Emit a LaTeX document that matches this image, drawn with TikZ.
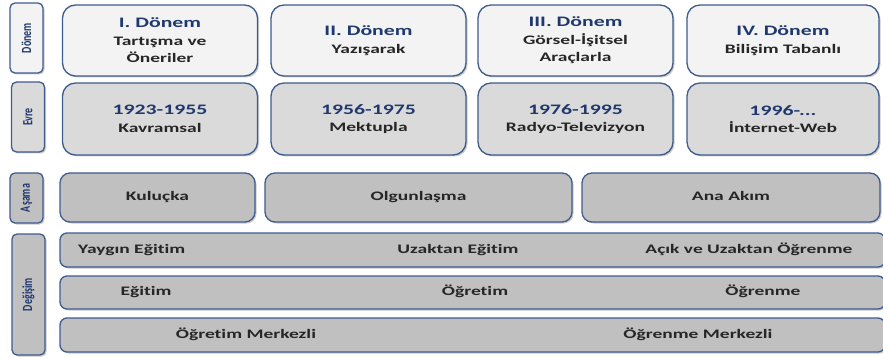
\documentclass[tikz,border=0pt]{standalone}
\usepackage{fontspec}
\setmainfont{Carlito}[FakeStretch=1.5, Ligatures=NoCommon]
\newfontfamily\labelfont{Carlito}
\usetikzlibrary{shadows}

\definecolor{edgeblue}{RGB}{62,92,142}
\definecolor{headblue}{RGB}{31,56,110}
\definecolor{inkgray}{RGB}{38,38,38}
\definecolor{paleface}{RGB}{243,243,243}
\definecolor{midface}{RGB}{218,218,218}
\definecolor{darkface}{RGB}{192,192,192}

\newcommand{\hd}[1]{{\color{headblue}\fontsize{14.5}{17.5}\selectfont #1}}
\newcommand{\sidetxt}[1]{\scalebox{1}[1.4]{#1}}

\begin{document}
\begin{tikzpicture}[
    x=1pt, y=-1pt,
    box/.style={draw=edgeblue, line width=1.3pt, text=inkgray,
                font=\bfseries\fontsize{13}{17.5}\selectfont, align=center,
                inner sep=0pt,
                drop shadow={shadow xshift=1.5pt, shadow yshift=-1.5pt,
                             opacity=0.35, fill=black!60}},
    bigbox/.style={box, rounded corners=13pt, minimum width=195pt},
    stagebox/.style={box, rounded corners=10pt, minimum height=49pt, fill=darkface,
                     text height=9.5pt, text depth=3pt},
    bandbox/.style={box, rounded corners=7pt, minimum width=825pt, fill=darkface},
    sidebox/.style={box, rounded corners=5pt, minimum width=33pt,
                    text=headblue, font=\labelfont\bfseries\fontsize{10}{12}\selectfont},
    bandtxt/.style={text=inkgray, font=\bfseries\fontsize{13}{16}\selectfont, inner sep=0pt,
                    text height=9.5pt, text depth=3pt}
  ]
  \useasboundingbox (0,0) rectangle (883,358);

  % side labels
  \node[sidebox, fill=paleface, minimum height=70pt] (lDonem) at (26.5,38)
    {\rotatebox{90}{\sidetxt{Dönem}}};
  \node[sidebox, fill=midface, minimum height=70pt] (lEvre) at (28,117)
    {\rotatebox{90}{\sidetxt{Evre}}};
  \node[sidebox, fill=darkface, minimum height=50pt] (lAsama) at (26.5,198)
    {\rotatebox{90}{\sidetxt{Aşama}}};
  \node[sidebox, fill=darkface, minimum height=121pt] (lDegisim) at (28.5,294.5)
    {\rotatebox{90}{\sidetxt{Değişim}}};

  % periods
  \node[bigbox, fill=paleface, minimum height=71pt] (d1) at (160,40.5)
    {\hd{I. Dönem}\\Tartışma ve\\Öneriler};
  \node[bigbox, fill=paleface, minimum height=71pt] (d2) at (368.5,40.5)
    {\hd{II. Dönem}\\Yazışarak};
  \node[bigbox, fill=paleface, minimum height=71pt] (d3) at (575.5,40.5)
    {\hd{III. Dönem}\\Görsel-İşitsel\\Araçlarla};
  \node[bigbox, fill=paleface, minimum height=71pt, minimum width=192pt] (d4) at (783,40.5)
    {\hd{IV. Dönem}\\Bilişim Tabanlı};

  % phases
  \node[bigbox, fill=midface, minimum height=72pt] (e1) at (160,119)
    {\hd{1923-1955}\\Kavramsal};
  \node[bigbox, fill=midface, minimum height=72pt] (e2) at (368.5,119)
    {\hd{1956-1975}\\Mektupla};
  \node[bigbox, fill=midface, minimum height=72pt] (e3) at (575.5,119)
    {\hd{1976-1995}\\Radyo-Televizyon};
  \node[bigbox, fill=midface, minimum height=72pt, minimum width=192pt] (e4) at (783,119)
    {\hd{1996-...}\\İnternet-Web};

  % stages
  \node[stagebox, minimum width=195pt] (a1) at (157.5,197.5) {Kuluçka};
  \node[stagebox, minimum width=307pt] (a2) at (418.5,197.5) {Olgunlaşma};
  \node[stagebox, minimum width=298pt] (a3) at (731,197.5) {Ana Akım};

  % change bands
  \node[bandbox, minimum height=34pt] (g1) at (472.5,250) {};
  \node[bandbox, minimum height=33pt] (g2) at (472.5,292.5) {};
  \node[bandbox, minimum height=34pt] (g3) at (472.5,335) {};

  \node[bandtxt, anchor=west] (g1a) at (78,250) {Yaygın Eğitim};
  \node[bandtxt] (g1b) at (458,250) {Uzaktan Eğitim};
  \node[bandtxt] (g1c) at (749,250) {Açık ve Uzaktan Öğrenme};

  \node[bandtxt] (g2a) at (146,292.5) {Eğitim};
  \node[bandtxt] (g2b) at (475,292.5) {Öğretim};
  \node[bandtxt] (g2c) at (763,292.5) {Öğrenme};

  \node[bandtxt] (g3a) at (246,335) {Öğretim Merkezli};
  \node[bandtxt] (g3b) at (698,335) {Öğrenme Merkezli};
\end{tikzpicture}
\end{document}
